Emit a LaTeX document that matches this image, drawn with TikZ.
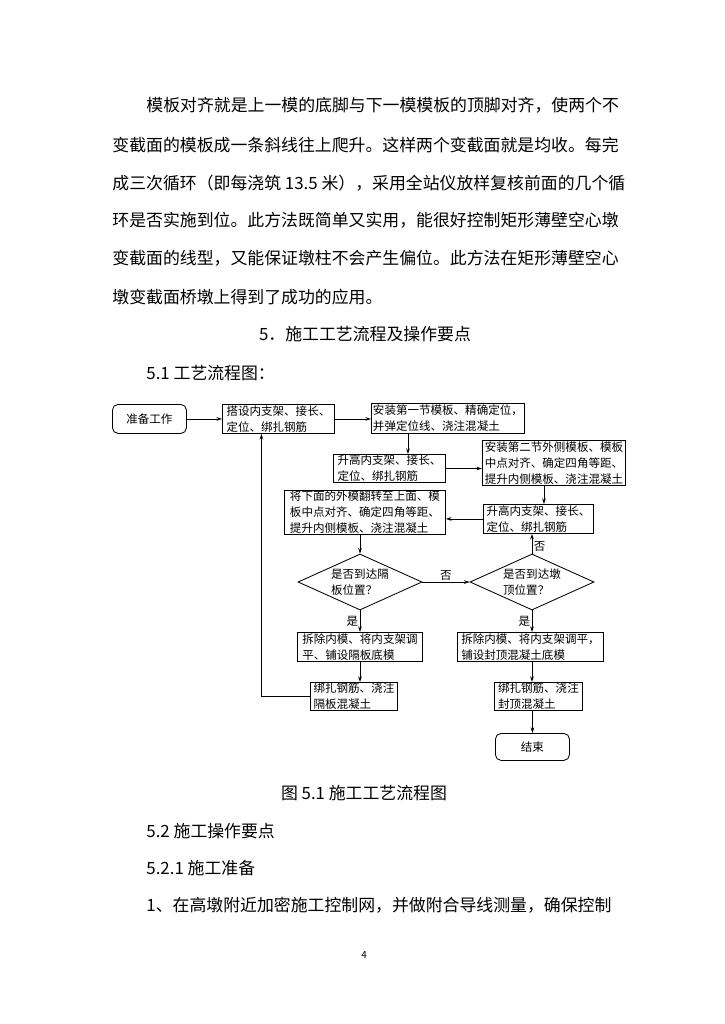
\documentclass[tikz,border=0pt]{standalone}
\usepackage{fontspec}
\setmainfont{Noto Sans CJK SC}
\usetikzlibrary{arrows.meta, positioning, shapes.geometric}

\newcommand{\bodyfont}{\fontsize{12pt}{14pt}\selectfont}
\newcommand{\boxfont}{\fontsize{8.2pt}{11.4pt}\selectfont}

\begin{document}
\begin{tikzpicture}[>={Stealth[length=4pt,width=2.6pt]}, x=0.025cm, y=-0.025cm,
  line width=0.6pt,
  bodytext/.style={anchor=west, inner sep=0pt, font=\bodyfont},
  proc/.style={draw, align=left, inner xsep=1pt, inner ysep=0.5pt,
               font=\boxfont, anchor=north west},
  terminal/.style={proc, rounded corners=4pt, align=center},
  decision/.style={draw, diamond, aspect=2.2, inner sep=0pt, align=left,
                   font=\boxfont, minimum width=3.1cm, minimum height=1.4cm},
  flow/.style={->},
  yesno/.style={font=\boxfont, inner sep=1pt}]
  \fill[white] (0,0) rectangle (724,1024);
  \useasboundingbox (0,0) rectangle (724,1024);

  % Text above the chart
  \node[bodytext] (p1) at (146,105) {模板对齐就是上一模的底脚与下一模模板的顶脚对齐，使两个不};
  \node[bodytext] (p2) at (112,145) {变截面的模板成一条斜线往上爬升。这样两个变截面就是均收。每完};
  \node[bodytext] (p3) at (112,183) {成三次循环（即每浇筑 13.5 米），采用全站仪放样复核前面的几个循};
  \node[bodytext] (p4) at (112,220) {环是否实施到位。此方法既简单又实用，能很好控制矩形薄壁空心墩};
  \node[bodytext] (p5) at (112,258) {变截面的线型，又能保证墩柱不会产生偏位。此方法在矩形薄壁空心};
  \node[bodytext] (p6) at (112,297) {墩变截面桥墩上得到了成功的应用。};
  \node[bodytext, anchor=center] (sec5) at (365,334) {5．施工工艺流程及操作要点};
  \node[bodytext] (sec51) at (146,373) {5.1 工艺流程图：};

  % Top row
  \node[terminal, minimum width=1.85cm, minimum height=0.725cm] (start) at (112,404) {准备工作};
  \node[proc, minimum width=2.8cm, minimum height=0.725cm] (b1) at (222,404)
    {搭设内支架、接长、\\定位、绑扎钢筋};
  \node[proc, minimum width=3.825cm, minimum height=0.75cm] (b2) at (371,403)
    {安装第一节模板、精确定位，\\并弹定位线、浇注混凝土};

  % Second cycle
  \node[proc, minimum width=2.8cm, minimum height=0.7cm] (b3) at (333,454)
    {升高内支架、接长、\\定位、绑扎钢筋};
  \node[proc, minimum width=3.575cm, minimum height=1.125cm] (b4) at (482,440)
    {安装第二节外侧模板、模板\\中点对齐、确定四角等距、\\提升内侧模板、浇注混凝土};
  \node[proc, minimum width=2.75cm, minimum height=0.725cm] (b5) at (483,504)
    {升高内支架、接长、\\定位、绑扎钢筋};
  \node[proc, minimum width=4.025cm, minimum height=1.075cm] (b6) at (284,490)
    {将下面的外模翻转至上面、模\\板中点对齐、确定四角等距、\\提升内侧模板、浇注混凝土};

  % Checks
  \node[decision] (d1) at (360,582) {是否到达隔\\板位置？};
  \node[decision] (d2) at (532,582) {是否到达墩\\顶位置？};

  % Left branch
  \node[proc, minimum width=3.125cm, minimum height=0.725cm] (b7) at (297,632)
    {拆除内模、将内支架调\\平、铺设隔板底模};
  \node[proc, minimum width=2.175cm, minimum height=0.7cm] (b8) at (310,682)
    {绑扎钢筋、浇注\\隔板混凝土};

  % Right branch
  \node[proc, minimum width=3.65cm, minimum height=0.725cm] (b9) at (457,632)
    {拆除内模、将内支架调平，\\铺设封顶混凝土底模};
  \node[proc, minimum width=2.2cm, minimum height=0.7cm] (b10) at (494,682)
    {绑扎钢筋、浇注\\封顶混凝土};
  \node[terminal, minimum width=1.85cm, minimum height=0.675cm] (stop) at (495,733) {结束};

  % Connectors
  \draw[flow] (start.east) -- (b1.west);
  \draw[flow] (b1.east) -- (b1.east -| b2.west);
  \draw[flow] ([xshift=-1cm]b2.south) -- ([xshift=-1cm]b2.south |- b3.north);
  \draw[flow] (b3.east) -- (b3.east -| b4.west);
  \draw[flow] ([xshift=-0.25cm]b4.south) -- ([xshift=-0.25cm]b4.south |- b5.north);
  \draw[flow] (b5.west) -- (b5.west -| b6.east);
  \draw[flow] (b6.south -| d1.north) -- (d1.north);
  \draw[flow] (d1.east) -- node[yesno, above] {否} (d2.west);
  \draw[flow] (d2.north) -- node[yesno, right, pos=0.35] {否} (d2.north |- b5.south);
  \draw[flow] (d1.south) -- node[yesno, left] {是} (d1.south |- b7.north);
  \draw[flow] (b7.south -| d1.south) -- (d1.south |- b8.north);
  \draw[flow] (b8.west) -| ([xshift=-0.425cm]b1.south);
  \draw[flow] (d2.south) -- node[yesno, left] {是} (d2.south |- b9.north);
  \draw[flow] (b9.south -| d2.south) -- (d2.south |- b10.north);
  \draw[flow] (b10.south -| stop.north) -- (stop.north);

  % Text below the chart
  \node[bodytext, anchor=center] (cap) at (364,793) {图 5.1 施工工艺流程图};
  \node[bodytext] (sec52) at (146,831) {5.2 施工操作要点};
  \node[bodytext] (sec521) at (146,868) {5.2.1 施工准备};
  \node[bodytext] (item1) at (146,905) {1、在高墩附近加密施工控制网，并做附合导线测量，确保控制};
  \node[font=\fontsize{7pt}{8pt}\selectfont, inner sep=0pt] (pageno) at (364,955) {4};
\end{tikzpicture}
\end{document}
